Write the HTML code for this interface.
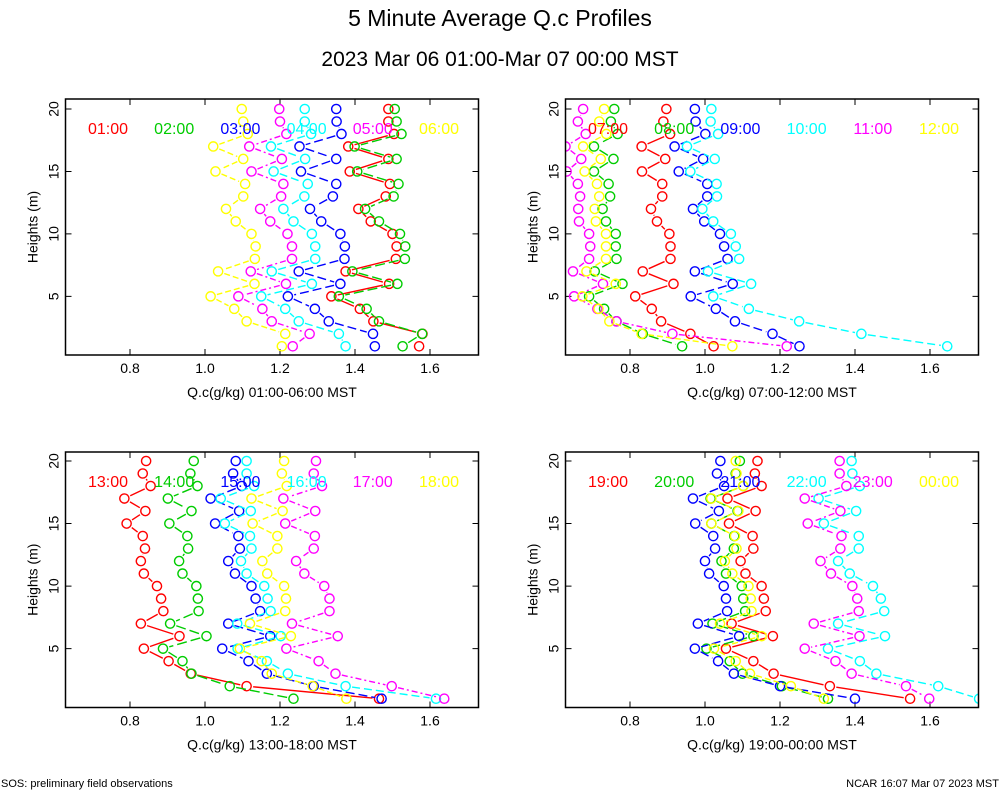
<!DOCTYPE html>
<html><head><meta charset="utf-8"><style>
html,body{margin:0;padding:0;background:#fff;}
svg{display:block;font-family:"Liberation Sans",sans-serif;}
</style></head><body>
<svg id="chart" width="1000" height="800" viewBox="0 0 1000 800" xmlns="http://www.w3.org/2000/svg">
<text x="500" y="26" font-size="23" text-anchor="middle">5 Minute Average Q.c Profiles</text>
<text x="500" y="66" font-size="21" text-anchor="middle">2023 Mar 06 01:00-Mar 07 00:00 MST</text>
<text x="1" y="787" font-size="11">SOS: preliminary field observations</text>
<text x="999" y="787" font-size="11" text-anchor="end">NCAR 16:07 Mar 07 2023 MST</text>
</svg>
<script>
const heights = [20,19,18,17,16,15,14,13,12,11,10,9,8,7,6,5,4,3,2,1];
const xTicks = [0.8,1.0,1.2,1.4,1.6];
const xTickLabels = ["0.8","1.0","1.2","1.4","1.6"];
const yTicks = [5,10,15,20];
const colors = ["#ff0000","#00cc00","#0000ff","#00ffff","#ff00ff","#ffff00"];
const dashes = ["none","10,4","9,4","8,4","6,3,2,3","6,3"];
const panelLabels = [
 ["01:00","02:00","03:00","04:00","05:00","06:00"],
 ["07:00","08:00","09:00","10:00","11:00","12:00"],
 ["13:00","14:00","15:00","16:00","17:00","18:00"],
 ["19:00","20:00","21:00","22:00","23:00","00:00"]];
const panelXTitles = ["Q.c(g/kg) 01:00-06:00 MST","Q.c(g/kg) 07:00-12:00 MST","Q.c(g/kg) 13:00-18:00 MST","Q.c(g/kg) 19:00-00:00 MST"];
// panel 1 series (heights 20..1)
const p1s1 = [1.489,1.489,1.504,1.382,1.489,1.386,1.493,1.482,1.409,1.442,1.500,1.511,1.509,1.375,1.491,1.337,1.413,1.449,1.580,1.571];
const p1s2 = [1.506,1.511,1.524,1.399,1.511,1.406,1.516,1.503,1.427,1.464,1.520,1.534,1.533,1.393,1.513,1.357,1.431,1.464,1.579,1.527];
const p1s3 = [1.350,1.351,1.364,1.252,1.350,1.256,1.350,1.341,1.280,1.310,1.361,1.373,1.372,1.250,1.361,1.221,1.293,1.330,1.448,1.453];
const p1s4 = [1.266,1.266,1.283,1.176,1.267,1.183,1.274,1.265,1.209,1.236,1.285,1.294,1.294,1.178,1.285,1.150,1.214,1.250,1.357,1.375];
const p1s5 = [1.198,1.200,1.217,1.118,1.205,1.124,1.209,1.203,1.147,1.174,1.220,1.232,1.232,1.122,1.216,1.089,1.153,1.178,1.279,1.234];
const p1s6 = [1.098,1.102,1.114,1.022,1.102,1.028,1.107,1.102,1.056,1.082,1.124,1.135,1.133,1.035,1.132,1.015,1.078,1.111,1.214,1.205];
// panel 2
const p2s1 = [0.897,0.889,0.907,0.831,0.894,0.832,0.886,0.886,0.856,0.872,0.905,0.908,0.908,0.834,0.916,0.814,0.858,0.883,0.961,1.023];
const p2s2 = [0.758,0.749,0.767,0.704,0.756,0.704,0.743,0.747,0.727,0.736,0.762,0.762,0.764,0.706,0.780,0.691,0.731,0.764,0.834,0.939];
const p2s3 = [0.973,0.975,1.001,0.919,0.995,0.930,1.006,1.006,0.968,0.998,1.040,1.051,1.060,0.973,1.074,0.962,1.029,1.080,1.180,1.252];
const p2s4 = [1.017,1.015,1.035,0.952,1.026,0.961,1.031,1.032,0.993,1.022,1.069,1.082,1.091,1.008,1.123,1.022,1.117,1.251,1.417,1.646];
const p2s5 = [0.675,0.661,0.682,0.628,0.670,0.631,0.661,0.667,0.662,0.664,0.691,0.694,0.691,0.648,0.728,0.651,0.713,0.764,0.913,1.218];
const p2s6 = [0.731,0.718,0.737,0.675,0.722,0.679,0.712,0.718,0.706,0.709,0.736,0.736,0.736,0.684,0.762,0.673,0.716,0.745,0.831,1.073];
// panel 3
const p3s1 = [0.843,0.834,0.855,0.785,0.841,0.791,0.834,0.840,0.829,0.837,0.872,0.883,0.889,0.829,0.932,0.837,0.903,0.962,1.111,1.464];
const p3s2 = [0.970,0.961,0.980,0.901,0.964,0.905,0.953,0.955,0.931,0.940,0.977,0.981,0.983,0.907,1.004,0.888,0.940,0.964,1.066,1.236];
const p3s3 = [1.082,1.075,1.098,1.015,1.091,1.027,1.089,1.093,1.062,1.080,1.124,1.135,1.147,1.062,1.174,1.046,1.116,1.165,1.290,1.471];
const p3s4 = [1.111,1.111,1.131,1.042,1.122,1.053,1.120,1.124,1.096,1.111,1.158,1.167,1.175,1.086,1.202,1.087,1.165,1.221,1.375,1.616];
const p3s5 = [1.296,1.290,1.312,1.209,1.294,1.214,1.293,1.290,1.243,1.265,1.318,1.332,1.332,1.232,1.354,1.217,1.303,1.348,1.498,1.638];
const p3s6 = [1.211,1.205,1.218,1.124,1.207,1.127,1.193,1.193,1.153,1.166,1.211,1.216,1.214,1.120,1.229,1.093,1.151,1.178,1.287,1.377];
// panel 4
const p4s1 = [1.140,1.133,1.151,1.060,1.135,1.064,1.127,1.129,1.095,1.108,1.151,1.157,1.162,1.071,1.181,1.056,1.129,1.183,1.333,1.547];
const p4s2 = [1.093,1.082,1.102,1.015,1.087,1.017,1.078,1.077,1.044,1.056,1.098,1.102,1.107,1.020,1.129,1.004,1.066,1.100,1.205,1.328];
const p4s3 = [1.041,1.032,1.051,0.968,1.037,0.974,1.022,1.027,1.000,1.011,1.050,1.056,1.059,0.981,1.091,0.973,1.035,1.077,1.200,1.400];
const p4s4 = [1.391,1.393,1.413,1.303,1.403,1.317,1.410,1.410,1.355,1.386,1.448,1.469,1.478,1.355,1.480,1.328,1.413,1.457,1.622,1.731];
const p4s5 = [1.359,1.359,1.377,1.266,1.361,1.274,1.364,1.361,1.308,1.336,1.393,1.406,1.410,1.290,1.412,1.266,1.348,1.391,1.536,1.598];
const p4s6 = [1.082,1.084,1.102,1.017,1.089,1.017,1.080,1.084,1.053,1.073,1.116,1.122,1.124,1.040,1.151,1.024,1.082,1.120,1.229,1.317];

const panelSeries = [[p1s1,p1s2,p1s3,p1s4,p1s5,p1s6],[p2s1,p2s2,p2s3,p2s4,p2s5,p2s6],[p3s1,p3s2,p3s3,p3s4,p3s5,p3s6],[p4s1,p4s2,p4s3,p4s4,p4s5,p4s6]];

const NS="http://www.w3.org/2000/svg";
const svg=document.getElementById('chart');
function mk(tag,attrs,parent){const e=document.createElementNS(NS,tag);for(const k in attrs)e.setAttribute(k,attrs[k]);(parent||svg).appendChild(e);return e;}

const boxes=[{l:65.5,t:99,r:478.5,b:355,y20:109,ppm:12.49},{l:565.5,t:99,r:978.5,b:355,y20:109,ppm:12.49},
             {l:65.5,t:452,r:478.5,b:707.5,y20:461,ppm:12.51},{l:565.5,t:452,r:978.5,b:707.5,y20:461,ppm:12.51}];

boxes.forEach((bx,p)=>{
  const off=bx.l-65.5;
  const xs=v=>205+off+(v-1)*375;
  const ys=h=>bx.y20+(20-h)*bx.ppm;
  const g=mk('g',{});
  
  
  const clipId='clip'+p;
  const cp=mk('clipPath',{id:clipId},g);
  mk('rect',{x:bx.l,y:bx.t,width:bx.r-bx.l,height:bx.b-bx.t},cp);
  xTicks.forEach((t,i)=>{
    const x=xs(t);
    const tk=mk('path',{d:`M${x},${bx.b}V${bx.b-6}M${x},${bx.t}V${bx.t+6}`,stroke:'#000','stroke-width':1},g);
    
    
    const tl=mk('text',{x:x,y:bx.b+18,'font-size':14,'text-anchor':'middle'},g);
    tl.textContent=xTickLabels[i];
    
    
  });
  yTicks.forEach(t=>{
    const y=ys(t);
    const tk=mk('path',{d:`M${bx.l},${y}H${bx.l+6}M${bx.r},${y}H${bx.r-6}`,stroke:'#000','stroke-width':1},g);
    
    
    const tl=mk('text',{x:0,y:0,'font-size':14,'text-anchor':'middle',transform:`translate(${bx.l-7},${y}) rotate(-90)`},g);
    tl.textContent=String(t);
    
    
  });
  const yl=mk('text',{x:0,y:0,'font-size':14,'text-anchor':'middle',transform:`translate(${bx.l-28},${(bx.t+bx.b)/2}) rotate(-90)`},g);
  yl.textContent='Heights (m)';
  
  
  const xl=mk('text',{x:(bx.l+bx.r)/2,y:bx.b+42,'font-size':14,'text-anchor':'middle'},g);
  xl.textContent=panelXTitles[p];
  
  
  const sg=mk('g',{'clip-path':`url(#${clipId})`},g);
  panelSeries[p].forEach((vals,s)=>{
    const col=colors[s];
    const ser=mk('g',{},sg);
    
    
    let d='';
    for(let i=0;i<vals.length-1;i++){
      const x1=xs(vals[i]),y1=ys(heights[i]),x2=xs(vals[i+1]),y2=ys(heights[i+1]);
      const dx=x2-x1,dy=y2-y1,L=Math.hypot(dx,dy);
      if(L<=13)continue;
      const ux=dx/L,uy=dy/L;
      d+=`M${(x1+ux*6.5).toFixed(2)},${(y1+uy*6.5).toFixed(2)}L${(x2-ux*6.5).toFixed(2)},${(y2-uy*6.5).toFixed(2)}`;
    }
    const ln=mk('path',{d:d,fill:'none',stroke:col,'stroke-width':1.4},ser);
    if(dashes[s]!=='none')ln.setAttribute('stroke-dasharray',dashes[s]);
    
    
    vals.forEach((v,i)=>{
      const c=mk('circle',{cx:xs(v),cy:ys(heights[i]),r:4.6,fill:'none',stroke:col,'stroke-width':1.4},ser);
      
      
    });
  });
  panelLabels[p].forEach((lab,s)=>{
    const t=mk('text',{x:108+off+s*66.2,y:bx.t+35,'font-size':16,'text-anchor':'middle',fill:colors[s]},g);
    t.textContent=lab;
    
    
  });
  const fr=mk('rect',{x:bx.l,y:bx.t,width:bx.r-bx.l,height:bx.b-bx.t,fill:'none',stroke:'#000','stroke-width':1.5},g);
  
  
});
</script>
</body></html>
